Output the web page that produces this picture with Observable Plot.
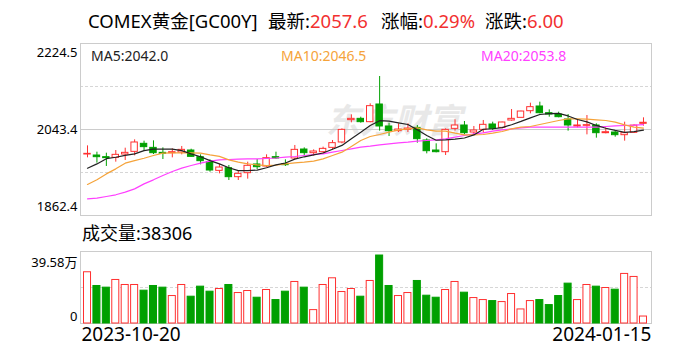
<!DOCTYPE html>
<html><head><meta charset="utf-8">
<script src="https://cdn.jsdelivr.net/npm/d3@7"></script>
<script src="https://cdn.jsdelivr.net/npm/@observablehq/plot@0.6"></script>
<style>
body{margin:0;background:#fff;}
#wrap{position:relative;width:688px;height:360px;overflow:hidden;font-family:"Noto Sans","Noto Sans CJK SC",sans-serif;color:#000;}
.abs{position:absolute;white-space:nowrap;line-height:1;}
.red{color:#f23030;}
#wrap svg{position:absolute;left:0;}
</style></head><body><div id="wrap"></div>
<script>
// ---- data ----
const dates = ["2023-10-20","2023-10-23","2023-10-24","2023-10-25","2023-10-26","2023-10-27","2023-10-30","2023-10-31",
"2023-11-01","2023-11-02","2023-11-03","2023-11-06","2023-11-07","2023-11-08","2023-11-09","2023-11-10","2023-11-13","2023-11-14","2023-11-15","2023-11-16","2023-11-17","2023-11-20","2023-11-21","2023-11-22","2023-11-23","2023-11-24","2023-11-27","2023-11-28","2023-11-29","2023-11-30",
"2023-12-01","2023-12-04","2023-12-05","2023-12-06","2023-12-07","2023-12-08","2023-12-11","2023-12-12","2023-12-13","2023-12-14","2023-12-15","2023-12-18","2023-12-19","2023-12-20","2023-12-21","2023-12-22","2023-12-26","2023-12-27","2023-12-28","2023-12-29",
"2024-01-02","2024-01-03","2024-01-04","2024-01-05","2024-01-08","2024-01-09","2024-01-10","2024-01-11","2024-01-12","2024-01-15"];
const open  = [1990.8,1988.7,1985.2,1983.8,1990.8,1996.4,2013.3,2004.8,1994.3,1993.6,1995.0,1999.2,1985.2,1974.7,1956.4,1962.0,1943.1,1951.5,1969.8,1965.5,1985.2,1970.5,1982.4,2001.3,1993.6,1995.7,2004.8,2016.1,2063.1,2065.9,2058.9,2096.1,2049.8,2040.0,2042.7,2046.9,2020.3,1999.2,1995.7,2044.8,2051.9,2037.1,2042.7,2054.0,2046.9,2062.4,2068.0,2082.0,2091.9,2077.8,2075.0,2064.5,2049.8,2051.2,2051.9,2035.7,2037.1,2031.5,2036.4,2055.4];
const high  = [2009.0,1995.7,1993.6,1999.2,2004.1,2021.7,2018.9,2019.6,2004.8,2002.7,2007.7,2002.0,1990.1,1979.6,1969.8,1967.7,1955.0,1974.7,1980.3,1990.1,1995.7,1979.6,2009.8,2004.8,2000.6,2006.3,2020.3,2044.8,2074.3,2069.4,2097.5,2155.0,2056.8,2055.4,2055.4,2051.9,2023.8,2013.3,2044.8,2063.8,2060.3,2049.8,2062.4,2058.9,2058.9,2085.5,2082.0,2098.9,2101.0,2084.8,2079.9,2075.0,2063.8,2072.9,2055.4,2046.9,2041.3,2058.9,2053.3,2068.0];
const low   = [1983.8,1972.6,1965.6,1974.7,1978.2,1988.0,1997.8,1990.8,1980.3,1983.8,1990.1,1985.2,1969.1,1953.6,1950.1,1936.1,1936.1,1938.9,1959.2,1963.4,1981.0,1965.6,1979.6,1988.7,1987.3,1992.2,2000.6,2013.3,2057.5,2056.8,2057.5,2040.0,2028.7,2037.1,2037.1,2014.7,1992.2,1994.3,1988.7,2040.0,2032.2,2032.2,2035.7,2041.3,2044.8,2061.0,2067.3,2076.4,2076.4,2069.4,2068.0,2040.0,2046.9,2032.2,2025.2,2034.3,2027.3,2018.9,2035.7,2050.5];
const close = [1992.2,1985.2,1983.1,1990.1,1994.3,2016.1,2006.3,1993.6,1992.2,1995.7,2000.6,1985.9,1976.8,1957.1,1963.4,1943.1,1950.1,1967.0,1964.1,1983.1,1982.4,1968.3,2000.6,1993.6,1997.1,2002.7,2014.7,2042.7,2065.9,2058.9,2092.6,2049.8,2040.0,2043.4,2045.5,2023.1,1997.8,1995.7,2042.7,2051.9,2035.7,2041.3,2053.3,2044.8,2058.2,2065.9,2081.3,2090.5,2077.8,2075.0,2069.4,2051.9,2051.9,2052.6,2035.7,2037.8,2031.5,2035.7,2051.6,2057.6];
const volume = [281700,206200,197000,239300,211700,211700,180400,206200,197000,151000,211700,147300,202500,174900,189600,211700,167500,178600,141700,184100,128900,174900,228300,197000,73600,211700,248500,173000,189600,147300,233800,373700,206200,151000,167500,233800,152800,141700,184100,228300,169400,139900,128900,123300,117800,162000,77300,123300,128900,101300,151000,219100,128900,211700,202500,195100,185900,272500,255900,38306];
const ma5  = [1962,1971,1982,1985,1989,1992,1999,2002,2002,2002,1999,1992,1986,1978,1971,1963,1957,1957,1958,1963,1969,1973,1981,1986,1990,1994,2002,2010,2024,2037.5,2052,2062,2061,2057.5,2054,2042.7,2030.8,2020.8,2021.5,2023,2025.5,2032,2044,2045,2047.5,2053.5,2060.5,2068,2075,2077,2077.5,2072,2064.5,2059.5,2052,2046,2041.5,2037.5,2038.8,2042.0];
const ma10 = [1927.7,1937.5,1950,1960.6,1972.6,1978,1983,1988.7,1993.6,1994.3,1994.3,1994.3,1993.6,1990,1987,1979.6,1974.7,1971,1969,1967.6,1968.5,1971,1973.3,1974.7,1976.8,1981.7,1988.7,1995.7,2007.7,2020.3,2028.7,2032.9,2037.8,2042.7,2044.8,2047,2042.7,2040,2040,2035.7,2032.2,2032.2,2032.9,2035.7,2039.2,2044.8,2048.3,2049.8,2054,2058.2,2062.4,2065.9,2065.9,2065.2,2063.8,2062.4,2058.9,2053.3,2048.3,2046.5];
const ma20 = [1897.5,1898.9,1902.4,1906,1911.5,1918.5,1929,1937.5,1946.6,1955,1962,1967.6,1972.6,1976.8,1979.6,1980.3,1981,1981.7,1981.7,1982.4,1983.4,1985.2,1986.6,1988.7,1990.8,1992.2,1995.7,1999.2,2002.7,2006.3,2008.4,2011.2,2013.3,2015.4,2016.8,2018.9,2020.3,2021.7,2023.8,2027.3,2030.8,2034.3,2036.4,2040,2042.7,2044.8,2046.9,2048.3,2048.3,2048.3,2048.3,2048.3,2048.3,2048.3,2048.3,2049.8,2051.2,2051.9,2052.6,2053.8];
const priceTicks = [2224.5, 2043.4, 1862.4];
const priceGrid = [2133.97, 1952.92];
const volMax = 395800;
const volTickLabels = ["39.58万", "0"];
const xTickLabels = [dates[0], dates[dates.length - 1]];
const header = {name: "COMEX黄金[GC00Y]", latest: "2057.6", pct: "0.29%", chg: "6.00"};
const maLabels = [["MA5", "2042.0"], ["MA10", "2046.5"], ["MA20", "2053.8"]];
const lastVolume = "38306";

// ---- colors ----
const RED = "#ff3030", GREEN = "#00a000", FRAME = "#cccccc", GRID = "#d6d6d6";
const C5 = "#222222", C10 = "#f5a33a", C20 = "#ff40ff";

const rows = dates.map((d, i) => ({date: d, open: open[i], high: high[i], low: low[i], close: close[i],
  vol: volume[i], ma5: ma5[i], ma10: ma10[i], ma20: ma20[i], up: close[i] >= open[i]}));

const FONT = '"Noto Sans","Noto Sans CJK SC",sans-serif';
const xScale = {type: "band", domain: dates, padding: 0, round: false, insetLeft: 2.3, insetRight: 3.3, axis: null};

const main = Plot.plot({
  width: 688, height: 230,
  marginLeft: 80, marginRight: 37, marginTop: 43, marginBottom: 15,
  x: xScale,
  y: {domain: [priceTicks[2], priceTicks[0]], axis: null},
  style: {fontFamily: FONT, background: "transparent", overflow: "visible"},
  marks: [
    Plot.text(["东方财富"], {frameAnchor: "middle", text: d => d, dx: 28, dy: -7, fontSize: 34, fontWeight: "bold", fontStyle: "italic", fill: "#e8e8e8"}),
    Plot.ruleY(priceGrid, {stroke: GRID, strokeDasharray: "3,2"}),
    Plot.ruleY([priceTicks[1]], {stroke: FRAME}),
    Plot.frame({stroke: FRAME}),
    Plot.ruleX(rows, {x: "date", y1: "low", y2: "high", stroke: d => d.up ? RED : GREEN, strokeWidth: 1}),
    Plot.barY(rows, {x: "date", y1: "open", y2: "close", fill: d => d.up ? "#ffffff" : GREEN, stroke: d => d.up ? RED : GREEN, strokeWidth: 1, insetLeft: 1.5, insetRight: 1.5}),
    Plot.lineY(rows, {x: "date", y: "ma20", stroke: C20, strokeWidth: 1.2}),
    Plot.lineY(rows, {x: "date", y: "ma10", stroke: C10, strokeWidth: 1.2}),
    Plot.lineY(rows, {x: "date", y: "ma5", stroke: C5, strokeWidth: 1.2}),
    Plot.text([priceTicks[0]], {y: d => d, text: d => d.toFixed(1), frameAnchor: "left", textAnchor: "end", dx: -3, dy: 9, fontSize: 13, fill: "#000"}),
    Plot.text([priceTicks[1]], {y: d => d, text: d => d.toFixed(1), frameAnchor: "left", textAnchor: "end", dx: -3, dy: 0, fontSize: 13, fill: "#000"}),
    Plot.text([priceTicks[2]], {y: d => d, text: d => d.toFixed(1), frameAnchor: "left", textAnchor: "end", dx: -3, dy: -9, fontSize: 13, fill: "#000"})
  ]
});
main.style.top = "0px";

const vol = Plot.plot({
  width: 688, height: 120,
  marginLeft: 80, marginRight: 37, marginTop: 11, marginBottom: 37,
  x: xScale,
  y: {domain: [0, volMax], axis: null},
  style: {fontFamily: FONT, background: "transparent", overflow: "visible"},
  marks: [
    Plot.ruleY([volMax / 2], {stroke: GRID, strokeDasharray: "3,2"}),
    Plot.frame({stroke: FRAME}),
    Plot.barY(rows, {x: "date", y: "vol", fill: d => d.up ? "#ffffff" : GREEN, stroke: d => d.up ? RED : GREEN, strokeWidth: 1, insetLeft: 1.2, insetRight: 1.2}),
    Plot.text([volMax], {y: d => d, text: [volTickLabels[0]], frameAnchor: "left", textAnchor: "end", dx: -3, dy: 11, fontSize: 13, fill: "#000"}),
    Plot.text([0], {y: d => d, text: [volTickLabels[1]], frameAnchor: "left", textAnchor: "end", dx: -3, dy: -7, fontSize: 13, fill: "#000"}),
    Plot.text([xTickLabels[0]], {text: d => d, frameAnchor: "bottom-left", textAnchor: "start", dx: 1, dy: 17, fontSize: 19, fill: "#000"}),
    Plot.text([xTickLabels[1]], {text: d => d, frameAnchor: "bottom-right", textAnchor: "end", dx: 0, dy: 17, fontSize: 19, fill: "#000"})
  ]
});
vol.style.top = "240px";

const wrap = document.getElementById("wrap");
wrap.appendChild(main);
wrap.appendChild(vol);

function addSpan(html, left, top, size, color) {
  const s = document.createElement("div");
  s.className = "abs";
  s.style.left = left + "px"; s.style.top = top + "px"; s.style.fontSize = size + "px";
  if (color) s.style.color = color;
  s.innerHTML = html;
  wrap.appendChild(s);
}
addSpan(header.name, 88, 12, 18.5);
addSpan('最新:<span class="red">' + header.latest + '</span>', 268, 12, 18.5);
addSpan('涨幅:<span class="red">' + header.pct + '</span>', 381, 12, 18.5);
addSpan('涨跌:<span class="red">' + header.chg + '</span>', 485, 12, 18.5);
addSpan(maLabels[0][0] + ":" + maLabels[0][1], 91, 49, 14, C5);
addSpan(maLabels[1][0] + ":" + maLabels[1][1], 281, 49, 14, C10);
addSpan(maLabels[2][0] + ":" + maLabels[2][1], 481, 49, 14, C20);
addSpan("成交量:" + lastVolume, 82, 224, 18);
</script></body></html>
